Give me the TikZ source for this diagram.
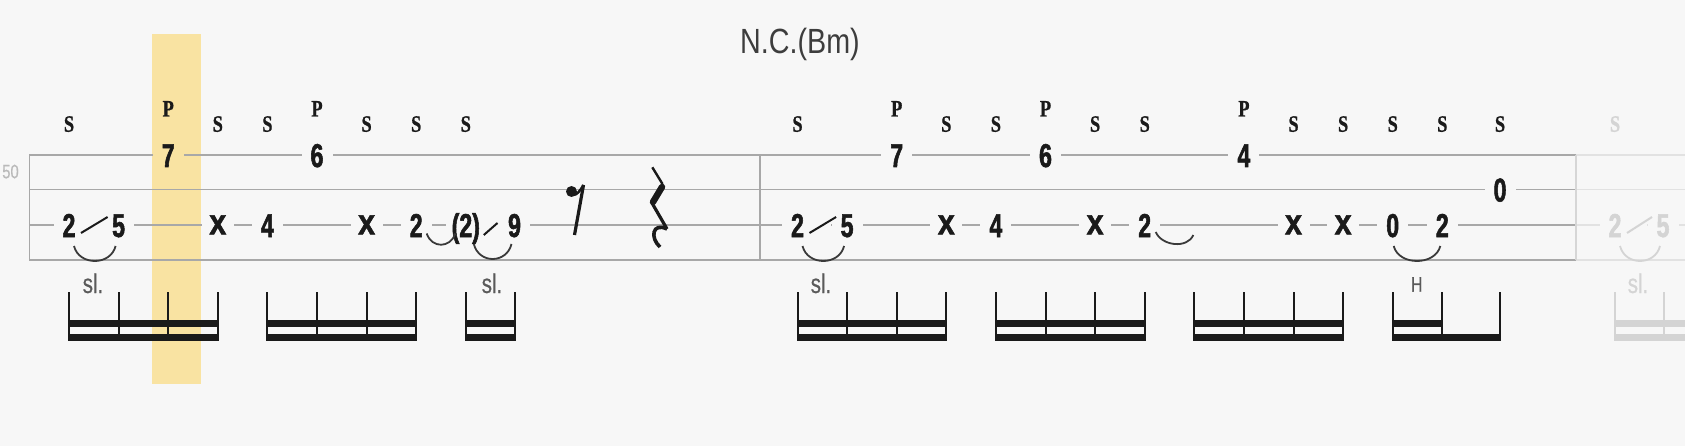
\documentclass[tikz,border=0pt]{standalone}
\usepackage{fontspec}
\setmainfont{Liberation Sans}
\newfontfamily\tabfont[FakeStretch=0.7,FakeBold=1.6]{Liberation Sans}
\newfontfamily\xfont[FakeStretch=0.85,FakeBold=1.4]{Liberation Sans}
\newfontfamily\spfont[FakeStretch=0.78,FakeBold=0.8]{Liberation Serif}
\newfontfamily\lblfont[FakeStretch=0.76,FakeBold=0.5]{Liberation Sans}
\newfontfamily\ttlfont[FakeStretch=0.82]{Liberation Sans}
\definecolor{bg}{HTML}{F7F7F7}
\definecolor{hl}{HTML}{F9E3A2}
\definecolor{staffc}{HTML}{A8A8A8}
\definecolor{ink}{HTML}{1A1A1A}
\definecolor{slurc}{HTML}{3A3A3A}
\definecolor{labelc}{HTML}{5A5A5A}
\definecolor{fade}{HTML}{D4D4D4}
\definecolor{fadeline}{HTML}{E2E2E2}
\tikzset{
  staffline/.style={draw=staffc, line width=1.4pt},
  fret/.style={font=\tabfont\bfseries\fontsize{33}{33}\selectfont, text=ink, fill=bg,
    inner sep=0pt, minimum width=31pt, text height=24pt, text depth=0pt},
  ghost/.style={font=\xfont\bfseries\fontsize{36}{36}\selectfont, text=ink, fill=bg,
    inner sep=0pt, minimum width=32pt, text height=18.7pt, text depth=0pt},
  sp/.style={font=\spfont\bfseries\fontsize{23.5}{23.5}\selectfont, text=ink,
    inner sep=0pt, text height=15.5pt, text depth=0pt},
  lbl/.style={font=\lblfont\fontsize{27}{27}\selectfont, text=labelc, inner sep=0pt, anchor=base},
  slur/.style={draw=slurc, line width=1.8pt},
  slide/.style={draw=ink, line width=2pt},
  bgline/.style={draw=bg, line width=4pt},
  stem/.style={draw=ink, line width=2pt},
  beam/.style={fill=ink},
}
\begin{document}
\begin{tikzpicture}[x=1pt,y=-1pt]
\useasboundingbox (0,0) rectangle (1685,446);
\fill[bg] (0,0) rectangle (1685,446);
\fill[hl] (152,34) rectangle (201,384);
% staff
\foreach \y in {155,189.5,225,260} {
  \draw[staffline] (29.3,\y) -- (1576,\y);
  \draw[staffline, draw=fadeline] (1576,\y) -- (1685,\y);
}
\draw[staffline] (29.3,155) -- (29.3,260);
\draw[staffline] (760,155) -- (760,260);
\draw[staffline, draw=fadeline!80!staffc] (1576,155) -- (1576,260);
% title and string count
\node[font=\ttlfont\fontsize{35}{35}\selectfont, text=black!76, inner sep=0pt, anchor=base] (nc) at (800,53.3) {N.C.(Bm)};
\node[font=\lblfont\fontsize{19.5}{19.5}\selectfont, text=black!27, inner sep=0pt, anchor=base] (num) at (10.5,178.3) {50};
% S / P row
\foreach \x [count=\i] in {69,217.8,267.4,366.6,416.2,465.8,797.5,946.3,995.9,1095.1,1144.7,1293.5,1343.1,1392.7,1442.3,1500}
  \node[sp] (s\i) at (\x,124) {S};
\foreach \x [count=\i] in {168.2,317,896.7,1045.5,1243.9}
  \node[sp] (p\i) at (\x,108.7) {P};
\node[sp, text=fade] (sf) at (1615,124) {S};
% measure 1
\node[fret] (a1) at (69,225) {2};
\node[fret] (a2) at (118.6,225) {5};
\node[fret, fill=hl] (a3) at (168.2,155) {7};
\node[ghost] (a4) at (217.8,225) {x};
\node[fret] (a5) at (267.4,225) {4};
\node[fret] (a6) at (317,155) {6};
\node[ghost] (a7) at (366.6,225) {x};
\node[fret] (a8) at (416.2,225) {2};
\node[fret, minimum width=40pt] (a9) at (465.8,225) {(2)};
\node[fret] (a10) at (514.5,225) {9};
\draw[bgline] (a1.east) -- (a2.west);
\draw[slide] ([shift={(12,8)}]a1.center) -- ([shift={(-11,-8)}]a2.center);
\draw[slur] ([shift={(5,21)}]a1.center) .. controls +(5,20) and +(-5,20) .. ([shift={(-3,21)}]a2.center);
\draw[slur] ([shift={(10.5,8.5)}]a8.center) .. controls +(5,15) and +(-5,15) .. ([shift={(-10.5,8.5)}]a9.center);
\draw[bgline] (a9.east) -- (a10.west);
\draw[slide] ([shift={(18,10)}]a9.center) -- ([shift={(-17,-2)}]a10.center);
\draw[slur] ([shift={(8,19)}]a9.center) .. controls +(5,20) and +(-5,20) .. ([shift={(-3,19)}]a10.center);
\node[lbl] (sl1) at (93,293) {sl.};
\node[lbl] (sl2) at (492,293) {sl.};
% rests
\fill[ink] (571.5,191.5) circle[radius=5.5pt];
\draw[ink, line width=2.5pt] (573,195) .. controls (577,195) and (580,191) .. (583.5,185);
\draw[ink, line width=3.2pt] (583.5,185) -- (574.5,235);
\draw[ink, line width=2.4pt] (652.3,167.3) -- (662.5,184);
\draw[ink, line width=6.5pt, line cap=round] (662,187) -- (653,202);
\draw[ink, line width=3.2pt] (652,203) -- (667,229);
\draw[ink, line width=3.6pt] (667,229) .. controls (652,222) and (650,238) .. (660,247);
% measure 2
\node[fret] (b1) at (797.5,225) {2};
\node[fret] (b2) at (847.1,225) {5};
\node[fret] (b3) at (896.7,155) {7};
\node[ghost] (b4) at (946.3,225) {x};
\node[fret] (b5) at (995.9,225) {4};
\node[fret] (b6) at (1045.5,155) {6};
\node[ghost] (b7) at (1095.1,225) {x};
\node[fret] (b8) at (1144.7,225) {2};
\coordinate (b9) at (1194.3,225);
\node[fret] (b10) at (1243.9,155) {4};
\node[ghost] (b11) at (1293.5,225) {x};
\node[ghost] (b12) at (1343.1,225) {x};
\node[fret] (b13) at (1392.7,225) {0};
\node[fret] (b14) at (1442.3,225) {2};
\node[fret] (b15) at (1500,189.5) {0};
\draw[bgline] (b1.east) -- (b2.west);
\draw[slide] ([shift={(12,8)}]b1.center) -- ([shift={(-11,-8)}]b2.center);
\draw[slur] ([shift={(5,21)}]b1.center) .. controls +(5,20) and +(-5,20) .. ([shift={(-3,21)}]b2.center);
\node[lbl] (sl3) at (821,293) {sl.};
\draw[slur] ([shift={(11,7)}]b8.center) .. controls +(6,14) and +(-6,14) .. ([shift={(-1,10)}]b9);
\draw[slur] ([shift={(1,21)}]b13.center) .. controls +(5,20) and +(-5,20) .. ([shift={(-2,21)}]b14.center);
\node[lbl, font=\lblfont\fontsize{21}{21}\selectfont] (hh) at (1416.7,291.7) {H};
% faded next system
\node[fret, text=fade] (c1) at (1615,225) {2};
\node[fret, text=fade] (c2) at (1663,225) {5};
\draw[bgline] (c1.east) -- (c2.west);
\draw[slide, draw=fade] ([shift={(12,8)}]c1.center) -- ([shift={(-11,-8)}]c2.center);
\draw[slur, draw=fade] ([shift={(5,21)}]c1.center) .. controls +(5,20) and +(-5,20) .. ([shift={(-3,21)}]c2.center);
\node[lbl, text=fade] (sl4) at (1638,293) {sl.};
% stems
\foreach \x in {69,118.6,168.2,217.8,267.4,317,366.6,416.2,465.8,515.4,797.5,847.1,896.7,946.3,995.9,1045.5,1095.1,1144.7,1194.3,1243.9,1293.5,1343.1,1392.7,1442.3,1500}
  \draw[stem] (\x,292) -- (\x,341);
\foreach \x in {1615,1664}
  \draw[stem, draw=fade] (\x,292) -- (\x,341);
% beams
\foreach \a/\b in {69/217.8,267.4/416.2,465.8/515.4,797.5/946.3,995.9/1144.7,1194.3/1343.1,1392.7/1442.3} {
  \fill[beam] (\a-1,320) rectangle (\b+1,327);
}
\foreach \a/\b in {69/217.8,267.4/416.2,465.8/515.4,797.5/946.3,995.9/1144.7,1194.3/1343.1,1392.7/1500} {
  \fill[beam] (\a-1,334) rectangle (\b+1,341);
}
\fill[fade] (1614,320) rectangle (1685,327);
\fill[fade] (1614,334) rectangle (1685,341);
\end{tikzpicture}
\end{document}
